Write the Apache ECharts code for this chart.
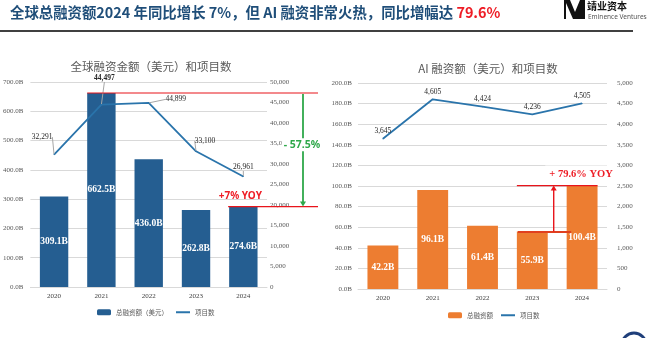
<!DOCTYPE html>
<html><head><meta charset="utf-8">
<script src="https://cdn.jsdelivr.net/npm/echarts@6/dist/echarts.min.js"></script>
<style>html,body{margin:0;padding:0;background:#fff;}#c{width:647px;height:338px;}</style>
</head><body><div id="c"></div>
<script>
const categories = ['2020','2021','2022','2023','2024'];
const globalFunding = [309.1, 662.5, 436.0, 262.8, 274.6];
const globalDeals = [32291, 44497, 44899, 33100, 26961];
const aiFunding = [42.2, 96.1, 61.4, 55.9, 100.4];
const aiDeals = [3645, 4605, 4424, 4236, 4505];
const leftTicksMax = 700, leftTicksStep = 100, leftRightMax = 50000, leftRightStep = 5000;
const rightTicksMax = 200, rightTicksStep = 20, rightRightMax = 5000, rightRightStep = 500;

const SERIF = 'Liberation Serif';
const CJK = 'Noto Sans CJK SC';
const gray = '#595959';
const gridColor = '#d9d9d9';
const barBlue = '#255e91';
const lineBlue = '#2a74ab';
const orange = '#ed7d31';
const red = '#e8141b';
const green = '#2ea84a';

const fmtB = v => v.toFixed(1) + 'B';
const fmtN = v => Number(v).toLocaleString('en-US');

const chart = echarts.init(document.getElementById('c'), null, {renderer:'canvas'});

const axisLabel = {fontFamily: SERIF, fontSize: 7, color: gray};
function yAx(gridIndex, max, step, fmt, pos, margin, showSplit){
  return {type:'value', gridIndex, min:0, max, interval:step, position:pos,
    axisLine:{show:false}, axisTick:{show:false},
    axisLabel:Object.assign({formatter:fmt, margin}, axisLabel),
    splitLine:{show:showSplit, lineStyle:{color:gridColor, width:1}}};
}
function xAx(gridIndex){
  return {type:'category', gridIndex, data:categories,
    axisLine:{lineStyle:{color:gridColor, width:1}}, axisTick:{show:false},
    axisLabel:{fontFamily:SERIF, fontSize:7, color:'#404040', margin:6}};
}
const barLabel = {show:true, position:'inside', color:'#fff', fontFamily:SERIF, fontWeight:'bold', fontSize:9.5, formatter:p=>fmtB(p.value)};
const lineIcon = 'path://M0,0H14V2H0Z';

// left chart label offsets (relative)
const leftLabelOffsets = [[-12,-8],[3,-17],[27,6],[9,-1],[0,0]];

chart.setOption({
  animation:false,
  title:[
    {text:'{a|全球总融资额2024 年同比增长 7%，但 AI 融资非常火热，同比增幅达 }{b|79.6%}', left:5, top:0,
      textStyle:{rich:{a:{fontFamily:CJK, fontWeight:'bold', fontSize:14.4, color:'#1f4e79'}, b:{fontFamily:CJK, fontWeight:'bold', fontSize:14.4, color:'#ee1c25'}}}},
    {text:'全球融资金额（美元）和项目数', left:146, textAlign:'center', top:56, textStyle:{fontFamily:CJK, fontWeight:'normal', fontSize:11.5, color:gray}},
    {text:'AI 融资额（美元）和项目数', left:483, textAlign:'center', top:58, textStyle:{fontFamily:CJK, fontWeight:'normal', fontSize:11.5, color:gray}}
  ],
  grid:[
    {left:25, right:380, top:82, bottom:51},
    {left:358, right:40, top:83, bottom:49}
  ],
  legend:[
    {data:[{name:'总融资额（美元）'},{name:'项目数', icon:lineIcon}], left:92, top:304, itemWidth:14, itemHeight:6, itemGap:8,
      textStyle:{fontFamily:CJK, fontSize:6.5, color:gray}},
    {data:[{name:'总融资额'},{name:'项目数', icon:lineIcon}], left:443, top:307, itemWidth:14, itemHeight:6, itemGap:8,
      textStyle:{fontFamily:CJK, fontSize:6.5, color:gray}}
  ],
  xAxis:[xAx(0), xAx(1)],
  yAxis:[
    yAx(0, leftTicksMax, leftTicksStep, fmtB, 'left', 7, true),
    yAx(0, leftRightMax, leftRightStep, fmtN, 'right', 3, false),
    yAx(1, rightTicksMax, rightTicksStep, fmtB, 'left', 6, true),
    yAx(1, rightRightMax, rightRightStep, fmtN, 'right', 10, false)
  ],
  series:[
    {name:'总融资额（美元）', type:'bar', xAxisIndex:0, yAxisIndex:0, data:globalFunding,
      barCategoryGap:'40%', itemStyle:{color:barBlue}, label:barLabel, z:2},
    {name:'项目数', type:'line', xAxisIndex:0, yAxisIndex:1,
      data:globalDeals.map((v,i)=>({value:v, label:{fontWeight:i===1?'bold':'normal'}})),
      symbol:'circle', symbolSize:1, showSymbol:true, lineStyle:{color:lineBlue, width:1.8}, itemStyle:{color:lineBlue}, z:3,
      label:{show:true, position:'top', distance:5, fontFamily:SERIF, fontSize:7.5, color:'#262626', formatter:p=>fmtN(p.value)},
      labelLine:{show:true, lineStyle:{color:'#a6a6a6', width:1}},
      labelLayout:p=>({dx:leftLabelOffsets[p.dataIndex][0], dy:leftLabelOffsets[p.dataIndex][1]})},
    {name:'总融资额', type:'bar', xAxisIndex:1, yAxisIndex:2, data:aiFunding,
      barCategoryGap:'38%', itemStyle:{color:orange}, label:barLabel, z:2},
    {name:'项目数', type:'line', xAxisIndex:1, yAxisIndex:3, data:aiDeals,
      symbol:'circle', symbolSize:1, showSymbol:true, lineStyle:{color:lineBlue, width:1.8}, itemStyle:{color:lineBlue}, z:3,
      label:{show:true, position:'top', distance:3, fontFamily:SERIF, fontSize:7.5, color:'#262626', formatter:p=>fmtN(p.value)}}
  ]
});

// annotations positioned from the chart's own scales
const P0 = (i,v)=>chart.convertToPixel({xAxisIndex:0, yAxisIndex:0}, [i,v]);
const P2 = (i,v)=>chart.convertToPixel({xAxisIndex:1, yAxisIndex:2}, [i,v]);
const cw0 = P0(1,0)[0]-P0(0,0)[0];
const cw1 = P2(1,0)[0]-P2(0,0)[0];
const bw0 = cw0*0.6, bw1 = cw1*0.62;
const top21 = P0(1, globalFunding[1]);
const top24 = P0(4, globalFunding[4]);
const rightEnd0 = 318;
const arrowX0 = 303;
const a23 = P2(3, aiFunding[3]);
const a24 = P2(4, aiFunding[4]);
const arrowX1 = a23[0] + cw1*0.43;

const g = [];
g.push({type:'line', shape:{x1:top21[0]-bw0/2, y1:top21[1], x2:rightEnd0, y2:top21[1]}, style:{stroke:red, lineWidth:1.2}, z:10});
g.push({type:'line', shape:{x1:top24[0]-bw0/2-1, y1:top24[1], x2:rightEnd0, y2:top24[1]}, style:{stroke:red, lineWidth:1.2}, z:10});
g.push({type:'line', shape:{x1:arrowX0, y1:top21[1]+1, x2:arrowX0, y2:top24[1]-4}, style:{stroke:green, lineWidth:1.8}, z:10});
g.push({type:'polygon', shape:{points:[[arrowX0-3,top24[1]-5],[arrowX0+3,top24[1]-5],[arrowX0,top24[1]]]}, style:{fill:green}, z:10});
g.push({type:'text', x:302, y:(top21[1]+top24[1])/2-5, style:{text:'- 57.5%', fill:green, font:'bold 10.5px "Noto Sans"', align:'center', verticalAlign:'middle', backgroundColor:'#fff', padding:[1,2]}, z:11});
g.push({type:'text', x:top24[0]-3, y:top24[1]-10, style:{text:'+7% YOY', fill:'#ee1c25', font:'bold 10px "Noto Sans"', align:'center', verticalAlign:'middle'}, z:11});
g.push({type:'line', shape:{x1:a23[0]-bw1/2, y1:a24[1], x2:a24[0]+bw1/2, y2:a24[1]}, style:{stroke:red, lineWidth:1.2}, z:10});
g.push({type:'line', shape:{x1:a23[0]-bw1/2+1, y1:a23[1]+0.5, x2:a24[0]-cw1*0.22, y2:a23[1]+0.5}, style:{stroke:'#e0401f', lineWidth:2}, z:10});
g.push({type:'line', shape:{x1:arrowX1, y1:a23[1], x2:arrowX1, y2:a24[1]+4}, style:{stroke:red, lineWidth:1.4}, z:10});
g.push({type:'polygon', shape:{points:[[arrowX1-3,a24[1]+5],[arrowX1+3,a24[1]+5],[arrowX1,a24[1]]]}, style:{fill:red}, z:10});
g.push({type:'text', x:581, y:a24[1]-11, style:{text:'+ 79.6% YOY', fill:'#ee1c25', font:'bold 10.5px "Liberation Serif"', align:'center', verticalAlign:'middle', backgroundColor:'#fff', padding:[5,4,2,4]}, z:11});
g.push({type:'line', shape:{x1:0, y1:31, x2:633, y2:31}, style:{stroke:'#404040', lineWidth:2}, z:5});
g.push({type:'polygon', shape:{points:[[564,0],[570,0],[575,12],[580,0],[585,0],[585,19],[564,19]]}, style:{fill:'#111'}, z:5});
g.push({type:'polygon', shape:{points:[[566,3],[573,19],[566,19]]}, style:{fill:'#fff'}, z:6});
g.push({type:'text', x:587, y:6, style:{text:'靖业资本', fill:'#111', font:'bold 10px "Noto Sans CJK SC"', verticalAlign:'middle'}, z:5});
g.push({type:'text', x:588, y:17, style:{text:'Eminence Ventures', fill:'#555', font:'6.5px "Noto Sans"', verticalAlign:'middle'}, z:5});
g.push({type:'circle', shape:{cx:634, cy:345, r:12}, style:{fill:'none', stroke:'#1f3f7a', lineWidth:3}, z:5});
chart.setOption({graphic:g});
</script></body></html>
